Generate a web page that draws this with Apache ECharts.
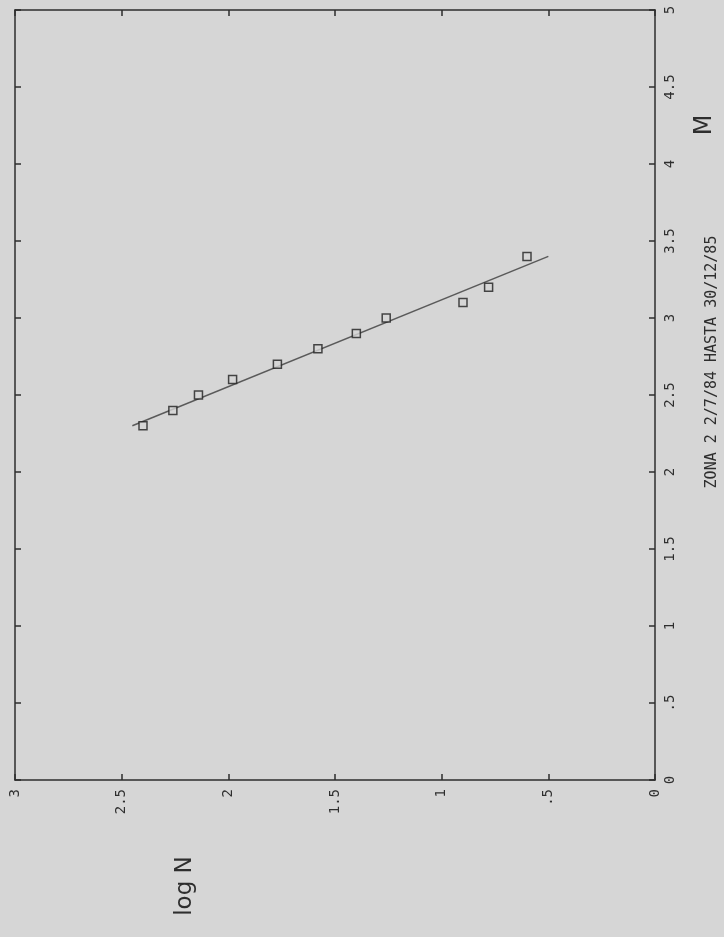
<!DOCTYPE html>
<html>
<head>
<meta charset="utf-8">
<script src="https://cdn.jsdelivr.net/npm/echarts@6/dist/echarts.min.js"></script>
<style>
html,body{margin:0;padding:0;background:#d6d6d6;}
#chart{width:724px;height:937px;}
</style>
</head>
<body>
<div id="chart"></div>
<script>
// Data (magnitude M vs log N)
var magnitudes = [2.3, 2.4, 2.5, 2.6, 2.7, 2.8, 2.9, 3.0, 3.1, 3.2, 3.4];
var logN       = [2.40, 2.26, 2.14, 1.98, 1.77, 1.58, 1.40, 1.26, 0.90, 0.78, 0.60];
// Fitted line end points
var fitM    = [2.3, 3.4];
var fitLogN = [2.45, 0.50];
// Tick labels
var logNTickLabels = ['0', '.5', '1', '1.5', '2', '2.5', '3'];
var mTickLabels    = ['0', '.5', '1', '1.5', '2', '2.5', '3', '3.5', '4', '4.5', '5'];
var footText = 'ZONA 2 2/7/84 HASTA 30/12/85';

var ink = '#2e2e2e';
var chart = echarts.init(document.getElementById('chart'));

function pts(xs, ys) { return xs.map(function (v, i) { return [v, ys[i]]; }); }

var labelFont = { fontFamily: 'DejaVu Sans Mono', fontSize: 14, color: ink };

chart.setOption({
  backgroundColor: '#d6d6d6',
  animation: false,
  grid: { left: 15, right: 69, top: 10, bottom: 157, containLabel: false },
  xAxis: [{
    type: 'value', min: 0, max: 3, interval: 0.5, inverse: true, position: 'bottom',
    axisLine: { show: true, onZero: false, lineStyle: { color: ink, width: 1.5 } },
    axisTick: { show: true, inside: true, length: 6, lineStyle: { color: ink, width: 1.5 } },
    splitLine: { show: false },
    axisLabel: Object.assign({
      rotate: 90, margin: 9, align: 'right', verticalAlign: 'middle',
      formatter: function (v) { return logNTickLabels[Math.round(v / 0.5)]; }
    }, labelFont)
  }, {
    type: 'value', min: 0, max: 3, interval: 0.5, inverse: true, position: 'top',
    axisLine: { show: true, onZero: false, lineStyle: { color: ink, width: 1.5 } },
    axisTick: { show: true, inside: true, length: 6, lineStyle: { color: ink, width: 1.5 } },
    splitLine: { show: false }, axisLabel: { show: false }
  }],
  yAxis: [{
    type: 'value', min: 0, max: 5, interval: 0.5, position: 'right',
    axisLine: { show: true, onZero: false, lineStyle: { color: ink, width: 1.5 } },
    axisTick: { show: true, inside: true, length: 6, lineStyle: { color: ink, width: 1.5 } },
    splitLine: { show: false },
    axisLabel: Object.assign({
      rotate: 90, margin: 8, align: 'center', verticalAlign: 'top',
      formatter: function (v) { return mTickLabels[Math.round(v / 0.5)]; }
    }, labelFont)
  }, {
    type: 'value', min: 0, max: 5, interval: 0.5, position: 'left',
    axisLine: { show: true, onZero: false, lineStyle: { color: ink, width: 1.5 } },
    axisTick: { show: true, inside: true, length: 6, lineStyle: { color: ink, width: 1.5 } },
    splitLine: { show: false }, axisLabel: { show: false }
  }],
  series: [{
    type: 'line',
    xAxisIndex: 0, yAxisIndex: 0,
    data: pts(fitLogN, fitM),
    symbol: 'none',
    lineStyle: { color: '#5a5a5a', width: 1.5 },
    z: 2
  }, {
    type: 'scatter',
    xAxisIndex: 0, yAxisIndex: 0,
    data: pts(logN, magnitudes),
    symbol: 'rect',
    symbolSize: 8,
    itemStyle: { color: '#d6d6d6', borderColor: '#1e1e1e', borderWidth: 1.5 },
    z: 3
  }],
  graphic: [{
    type: 'text', x: 185, y: 886, rotation: Math.PI / 2,
    style: { text: 'log N', fontFamily: 'DejaVu Sans', fontSize: 23, fill: ink,
             align: 'center', verticalAlign: 'middle' }
  }, {
    type: 'text', x: 705, y: 125, rotation: Math.PI / 2,
    style: { text: 'M', fontFamily: 'DejaVu Sans', fontSize: 24, fill: ink,
             align: 'center', verticalAlign: 'middle' }
  }, {
    type: 'text', x: 712, y: 362, rotation: Math.PI / 2,
    style: { text: footText, fontFamily: 'DejaVu Sans Mono', fontSize: 15, fill: ink,
             align: 'center', verticalAlign: 'middle' }
  }]
});
</script>
</body>
</html>
